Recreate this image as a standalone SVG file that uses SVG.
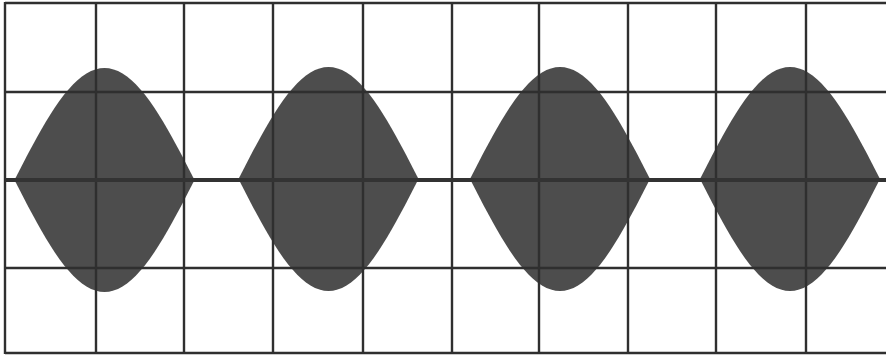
<svg xmlns="http://www.w3.org/2000/svg" width="886" height="355" viewBox="0 0 886 355">
<style>
.lobe{fill:#4d4d4d}
.grid line{stroke:#2f2f2f;stroke-width:2.4}
.axis{stroke:#333;stroke-width:4}
</style>
<defs>
<path id="lobe" d="M-90,0 L-85.5,-8.79 -81,-17.52 -76.5,-26.15 -72,-34.61 -67.5,-42.86 -63,-50.85 -58.5,-58.52 -54,-65.83 -49.5,-72.74 -45,-79.2 -40.5,-85.17 -36,-90.61 -31.5,-95.5 -27,-99.79 -22.5,-103.47 -18,-106.52 -13.5,-108.91 -9,-110.62 -4.5,-111.66 0,-112 4.5,-111.66 9,-110.62 13.5,-108.91 18,-106.52 22.5,-103.47 27,-99.79 31.5,-95.5 36,-90.61 40.5,-85.17 45,-79.2 49.5,-72.74 54,-65.83 58.5,-58.52 63,-50.85 67.5,-42.86 72,-34.61 76.5,-26.15 81,-17.52 85.5,-8.79 90,0 85.5,8.79 81,17.52 76.5,26.15 72,34.61 67.5,42.86 63,50.85 58.5,58.52 54,65.83 49.5,72.74 45,79.2 40.5,85.17 36,90.61 31.5,95.5 27,99.79 22.5,103.47 18,106.52 13.5,108.91 9,110.62 4.5,111.66 0,112 -4.5,111.66 -9,110.62 -13.5,108.91 -18,106.52 -22.5,103.47 -27,99.79 -31.5,95.5 -36,90.61 -40.5,85.17 -45,79.2 -49.5,72.74 -54,65.83 -58.5,58.52 -63,50.85 -67.5,42.86 -72,34.61 -76.5,26.15 -81,17.52 -85.5,8.79 Z"/>
</defs>
<rect width="886" height="355" fill="#fff"/>
<g id="lobes">
<use href="#lobe" class="lobe" transform="translate(104.5,180)"/>
<use href="#lobe" class="lobe" transform="translate(328.5,179)"/>
<use href="#lobe" class="lobe" transform="translate(560,179)"/>
<use href="#lobe" class="lobe" transform="translate(790,179)"/>
</g>
<g id="grid" class="grid">
<line x1="5" y1="3" x2="886" y2="3"/>
<line x1="5" y1="92" x2="886" y2="92"/>
<line x1="5" y1="268" x2="886" y2="268"/>
<line x1="5" y1="353" x2="886" y2="353"/>
<line x1="5" y1="2" x2="5" y2="354"/>
<line x1="96" y1="2" x2="96" y2="354"/>
<line x1="184" y1="2" x2="184" y2="354"/>
<line x1="273" y1="2" x2="273" y2="354"/>
<line x1="363" y1="2" x2="363" y2="354"/>
<line x1="452" y1="2" x2="452" y2="354"/>
<line x1="539" y1="2" x2="539" y2="354"/>
<line x1="628" y1="2" x2="628" y2="354"/>
<line x1="716" y1="2" x2="716" y2="354"/>
<line x1="806" y1="2" x2="806" y2="354"/>
</g>
<line id="axis" class="axis" x1="5" y1="180" x2="886" y2="180"/>
</svg>
